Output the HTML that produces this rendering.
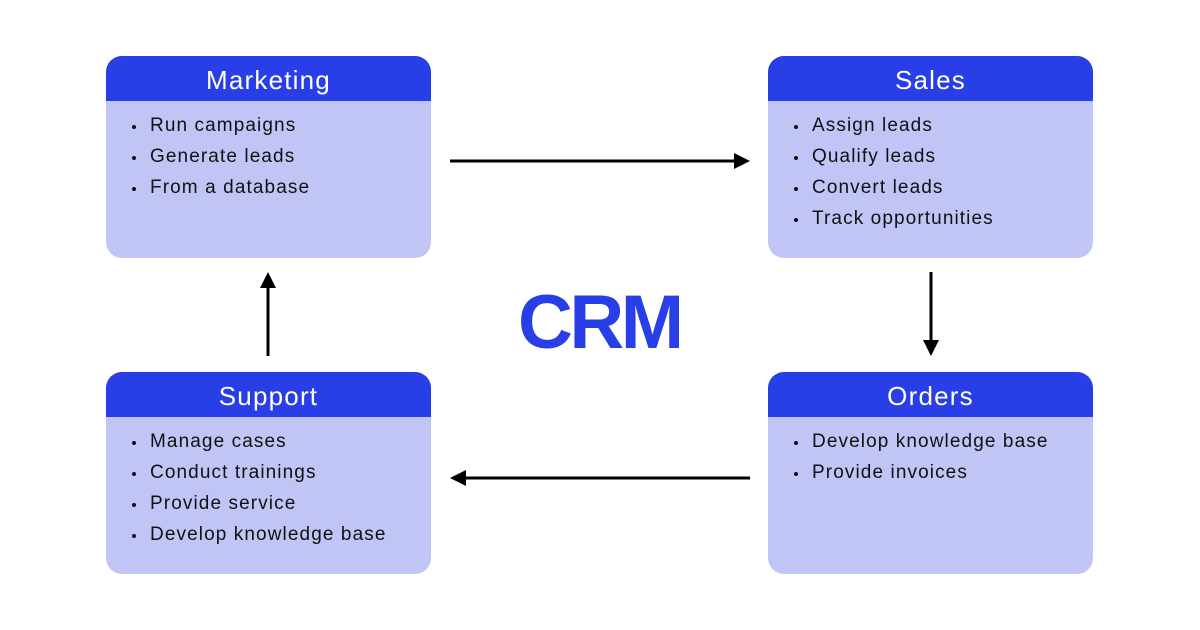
<!DOCTYPE html>
<html><head><style>
body{margin:0;width:1200px;height:630px;background:#fff;position:relative;font-family:"Liberation Sans",sans-serif;overflow:hidden}
.box{position:absolute;width:325px;height:202px;background:#c0c5f5;border-radius:16px;overflow:hidden}
.h{height:45px;background:#283ee6;color:#fff;font-size:26px;letter-spacing:1.2px;text-align:center;line-height:48px}
ul{margin:0;padding:0;list-style:none;position:absolute;left:24px;top:58px}
li{font-size:19px;letter-spacing:1.1px;color:#111;height:31px;line-height:24px;position:relative;padding-left:20px}
li:before{content:"";position:absolute;left:2px;top:11px;width:4px;height:4px;border-radius:2px;background:#111}
.crm{position:absolute;left:518px;top:279px;font-size:76px;font-weight:bold;color:#283ee6;letter-spacing:-3.5px}
</style></head><body>
<div class="box" style="left:106px;top:56px"><div class="h">Marketing</div><ul><li>Run campaigns</li><li>Generate leads</li><li>From a database</li></ul></div>
<div class="box" style="left:768px;top:56px"><div class="h">Sales</div><ul><li>Assign leads</li><li>Qualify leads</li><li>Convert leads</li><li>Track opportunities</li></ul></div>
<div class="box" style="left:106px;top:372px"><div class="h">Support</div><ul><li>Manage cases</li><li>Conduct trainings</li><li>Provide service</li><li>Develop knowledge base</li></ul></div>
<div class="box" style="left:768px;top:372px"><div class="h">Orders</div><ul><li>Develop knowledge base</li><li>Provide invoices</li></ul></div>
<div class="crm">CRM</div>
<svg width="1200" height="630" style="position:absolute;left:0;top:0">
<g stroke="#000" stroke-width="3">
<line x1="450" y1="161" x2="736" y2="161"/>
<line x1="750" y1="478" x2="464" y2="478"/>
<line x1="268" y1="356" x2="268" y2="286"/>
<line x1="931" y1="272" x2="931" y2="342"/>
</g>
<g fill="#000">
<polygon points="750,161 734,153 734,169"/>
<polygon points="450,478 466,470 466,486"/>
<polygon points="268,272 260,288 276,288"/>
<polygon points="931,356 923,340 939,340"/>
</g>
</svg>
</body></html>
